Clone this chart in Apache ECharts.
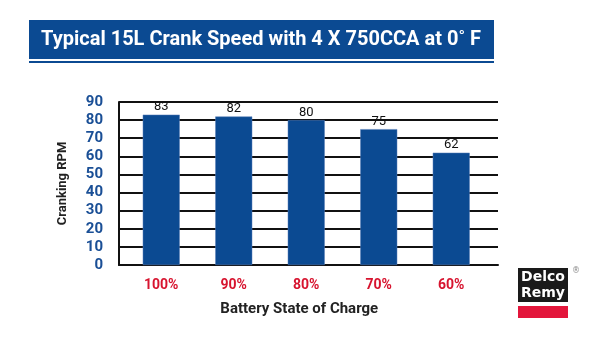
<!DOCTYPE html>
<html><head><meta charset="utf-8">
<script src="https://cdn.jsdelivr.net/npm/echarts@6/dist/echarts.min.js"></script>
<style>html,body{margin:0;padding:0;background:#fff}#c{width:600px;height:337px}</style>
</head><body><div id="c"></div>
<script>
const titleText = 'Typical 15L Crank Speed with 4 X 750CCA at 0\u02DA F';
const categories = ['100%', '90%', '80%', '70%', '60%'];
const rpmValues = [83, 82, 80, 75, 62];
const yTicks = { min: 0, max: 90, interval: 10 };
const yName = 'Cranking RPM';
const xName = 'Battery State of Charge';

const BLUE = '#0b4a92';
const chart = echarts.init(document.getElementById('c'));
chart.setOption({
  animation: false,
  grid: [
    { left: 119, right: 102, top: 102, bottom: 72 },
    { left: 125, width: 362.5, top: 102, bottom: 72 }
  ],
  xAxis: [
    { gridIndex: 0, type: 'category', data: categories, show: true,
      axisLine: { show: true, lineStyle: { color: '#111', width: 2 } },
      axisTick: { show: false }, axisLabel: { show: false } },
    { gridIndex: 1, type: 'category', data: categories,
      axisLine: { show: false }, axisTick: { show: false },
      axisLabel: { color: '#d7142f', fontFamily: 'Roboto', fontWeight: 'bold', fontSize: 14, margin: 13 },
      name: xName, nameLocation: 'middle', nameGap: 37,
      nameTextStyle: { color: '#222', fontFamily: 'Roboto', fontWeight: 'bold', fontSize: 15, padding: [0, 14, 0, 0] } }
  ],
  yAxis: [
    { gridIndex: 0, type: 'value', min: yTicks.min, max: yTicks.max, interval: yTicks.interval,
      axisLine: { show: true, lineStyle: { color: '#111', width: 2 } },
      axisTick: { show: false },
      splitLine: { show: true, lineStyle: { color: '#111', width: 2 } },
      axisLabel: { color: '#1a4f96', fontFamily: 'Roboto', fontWeight: 'bold', fontSize: 15, margin: 16 },
      name: yName, nameLocation: 'middle', nameGap: 50, nameRotate: 90,
      nameTextStyle: { color: '#222', fontFamily: 'Roboto', fontWeight: 'bold', fontSize: 13 } },
    { gridIndex: 1, type: 'value', min: yTicks.min, max: yTicks.max, interval: yTicks.interval, show: false }
  ],
  series: [{
    type: 'bar', xAxisIndex: 1, yAxisIndex: 1, data: rpmValues, barWidth: 37,
    itemStyle: { color: BLUE, borderColor: '#5a7fb8', borderWidth: 0.5 },
    label: { show: true, position: 'top', distance: 1, color: '#111', fontFamily: 'Roboto', fontSize: 13 }
  }],
  graphic: [
    { type: 'rect', shape: { x: 29, y: 20, width: 465, height: 39 }, style: { fill: BLUE } },
    { type: 'rect', shape: { x: 29, y: 61, width: 465, height: 2 }, style: { fill: BLUE } },
    { type: 'text', x: 261, y: 40, style: { text: titleText, fill: '#fff', font: 'bold 20px Roboto', textAlign: 'center', textVerticalAlign: 'middle' } },
    { type: 'rect', shape: { x: 518, y: 268, width: 50, height: 34 }, style: { fill: '#1a1a1a' } },
    { type: 'rect', shape: { x: 518, y: 306, width: 50, height: 12 }, style: { fill: '#e3163b' } },
    { type: 'text', x: 543, y: 277, style: { text: 'Delco', fill: '#fff', font: 'bold 14px "Liberation Sans Narrow", "DejaVu Sans"', textAlign: 'center', textVerticalAlign: 'middle' } },
    { type: 'text', x: 543, y: 293, style: { text: 'Remy', fill: '#fff', font: 'bold 14px "Liberation Sans Narrow", "DejaVu Sans"', textAlign: 'center', textVerticalAlign: 'middle' } },
    { type: 'text', x: 576, y: 271, style: { text: '\u00AE', fill: '#888', font: '8px "DejaVu Sans"', textAlign: 'center', textVerticalAlign: 'middle' } }
  ]
});
</script></body></html>
